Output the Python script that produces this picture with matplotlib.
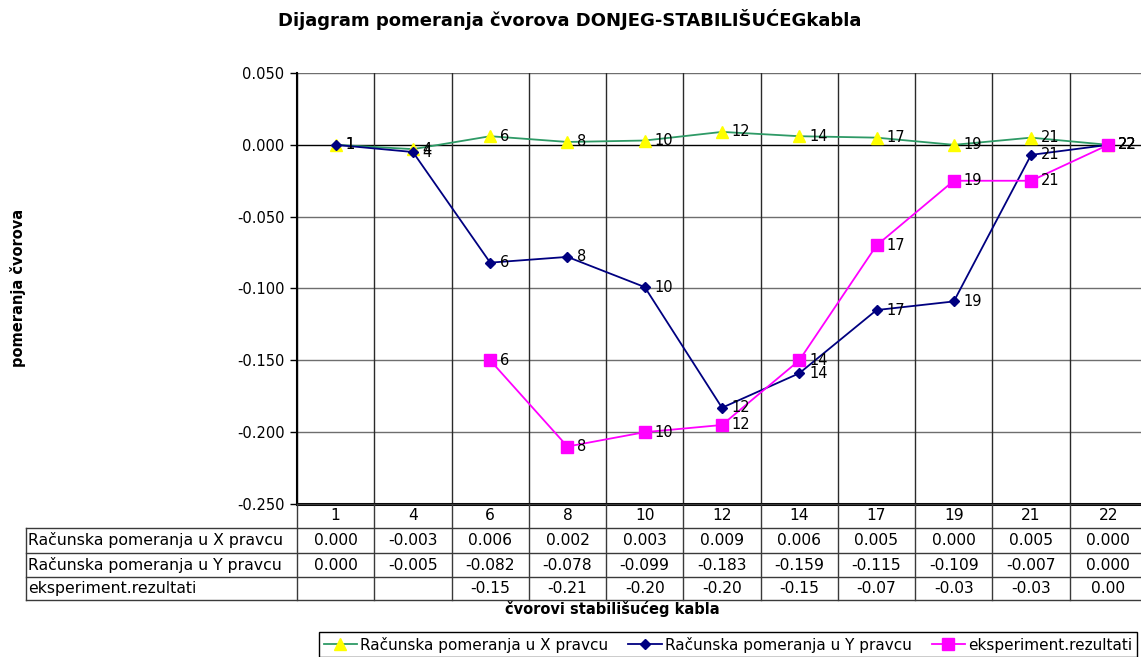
import numpy as np
import matplotlib
matplotlib.use("Agg")
import matplotlib.pyplot as plt
from matplotlib.lines import Line2D

plt.rcParams['font.family'] = ['DejaVu Sans']

# Cable nodes and computed / measured displacements
nodes = ["1", "4", "6", "8", "10", "12", "14", "17", "19", "21", "22"]
disp_x = [0.000, -0.003, 0.006, 0.002, 0.003, 0.009, 0.006, 0.005, 0.000, 0.005, 0.000]
disp_y = [0.000, -0.005, -0.082, -0.078, -0.099, -0.183, -0.159, -0.115, -0.109, -0.007, 0.000]
experiment = [np.nan, np.nan, -0.15, -0.21, -0.20, -0.195, -0.15, -0.07, -0.025, -0.025, 0.00]

series_names = ["Računska pomeranja u X pravcu",
                "Računska pomeranja u Y pravcu",
                "eksperiment.rezultati"]
y_ticks = [0.050, 0.000, -0.050, -0.100, -0.150, -0.200, -0.250]

W, H = 1141, 657
fig = plt.figure(figsize=(W / 100, H / 100), dpi=100)


def fx(px):
    return px / W


def fy(py):
    return 1 - py / H


# Plot area geometry (pixels)
L, R, T, B = 297, 1147, 73, 504
ax = fig.add_axes([fx(L), fy(B), fx(R - L), fy(T) - fy(B)])
n = len(nodes)
xs = np.arange(n)
ax.set_xlim(-0.5, n - 0.5)
ax.set_ylim(-0.25, 0.05)

# Grid: horizontal at each tick, vertical at category boundaries
for yv in y_ticks:
    col = "black" if abs(yv) < 1e-9 else "#6e6e6e"
    ax.axhline(yv, color=col, lw=1.0, zorder=1)
for k in range(n + 1):
    ax.axvline(k - 0.5, color="#2a2a2a", lw=1.0, zorder=1)

ax.set_yticks(y_ticks)
ax.set_yticklabels([f"{v:.3f}" for v in y_ticks], fontsize=10.5)
ax.tick_params(axis="y", direction="out", length=5, width=1, color="black", pad=4)
ax.set_xticks([])
for s in ["top", "right"]:
    ax.spines[s].set_visible(False)
ax.spines["left"].set_linewidth(1.5)
ax.spines["bottom"].set_linewidth(2.2)
ax.spines["bottom"].set_zorder(5)

green, navy, magenta = "#2E9A66", "#000080", "#FF00FF"
ax.plot(xs, disp_x, color=green, lw=1.3, marker="^", ms=9, mfc="#FFFF00",
        mec="#FFFF00", zorder=3, label=series_names[0])
ax.plot(xs, disp_y, color=navy, lw=1.3, marker="D", ms=5.5, mfc=navy,
        mec=navy, zorder=4, label=series_names[1])
ax.plot(xs, experiment, color=magenta, lw=1.3, marker="s", ms=8, mfc=magenta,
        mec=magenta, zorder=4, label=series_names[2])

# Node-name data labels to the right of each point
for vals in (disp_x, disp_y, experiment):
    for i, v in enumerate(vals):
        if np.isnan(v):
            continue
        ax.annotate(nodes[i], (xs[i], v), xytext=(7, 0), textcoords="offset points",
                    ha="left", va="center", fontsize=10.5, zorder=6,
                    annotation_clip=False)

# Data table under the plot area
LBL = 26
row_edges = [504, 528, 553, 577, 600]
col_w = (R - L) / n
tx0 = -0.5 - (L - LBL) / col_w
tax = fig.add_axes([fx(LBL), fy(row_edges[-1]), fx(R - LBL), fy(row_edges[0]) - fy(row_edges[-1])])
tax.set_xlim(tx0, n - 0.5)
tax.set_ylim(row_edges[-1], row_edges[0])
tax.axis("off")
lc = "#3a3a3a"
tax.plot([-0.5, n - 0.5], [row_edges[0]] * 2, color=lc, lw=1, clip_on=False)
for yy in row_edges[1:]:
    tax.plot([tx0, n - 0.5], [yy, yy], color=lc, lw=1, clip_on=False)
tax.plot([tx0, tx0], [row_edges[1], row_edges[-1]], color=lc, lw=1, clip_on=False)
for k in range(n + 1):
    tax.plot([k - 0.5, k - 0.5], [row_edges[0], row_edges[-1]], color=lc, lw=1, clip_on=False)

rows = [(series_names[0], [f"{v:.3f}" for v in disp_x]),
        (series_names[1], [f"{v:.3f}" for v in disp_y]),
        (series_names[2], ["" if np.isnan(v) else f"{v:.2f}" for v in experiment])]
hc = (row_edges[0] + row_edges[1]) / 2
for i, name in enumerate(nodes):
    tax.text(xs[i], hc, name, ha="center", va="center", fontsize=11.2)
for r, (label, cells) in enumerate(rows):
    yc = (row_edges[r + 1] + row_edges[r + 2]) / 2
    tax.text(tx0 + 0.03, yc, label, ha="left", va="center", fontsize=11.3)
    for i, c in enumerate(cells):
        tax.text(xs[i], yc, c, ha="center", va="center", fontsize=11.2)

# Titles
fig.text(fx(570), fy(20), "Dijagram pomeranja čvorova DONJEG-STABILIŠUĆEGkabla",
         ha="center", va="center", fontsize=13, fontweight="bold")
fig.text(fx(612), fy(609), "čvorovi stabilišućeg kabla",
         ha="center", va="center", fontsize=10.5, fontweight="bold")
fig.text(fx(18), fy(288), "pomeranja čvorova", rotation=90,
         ha="center", va="center", fontsize=10.5, fontweight="bold")

# Legend
handles = [Line2D([], [], color=green, lw=1.3, marker="^", ms=9, mfc="#FFFF00", mec="#FFFF00"),
           Line2D([], [], color=navy, lw=1.3, marker="D", ms=5.5, mfc=navy, mec=navy),
           Line2D([], [], color=magenta, lw=1.3, marker="s", ms=8, mfc=magenta, mec=magenta)]
leg = fig.legend(handles, series_names, loc="upper center",
                 bbox_to_anchor=(fx(728), fy(632)), ncol=3, fontsize=11,
                 frameon=True, fancybox=False, edgecolor="black", framealpha=1,
                 borderpad=0.3, handlelength=2.2, handletextpad=0.2,
                 columnspacing=1.3, borderaxespad=0)
leg.get_frame().set_linewidth(1.0)

fig.savefig("out.png", dpi=100)
